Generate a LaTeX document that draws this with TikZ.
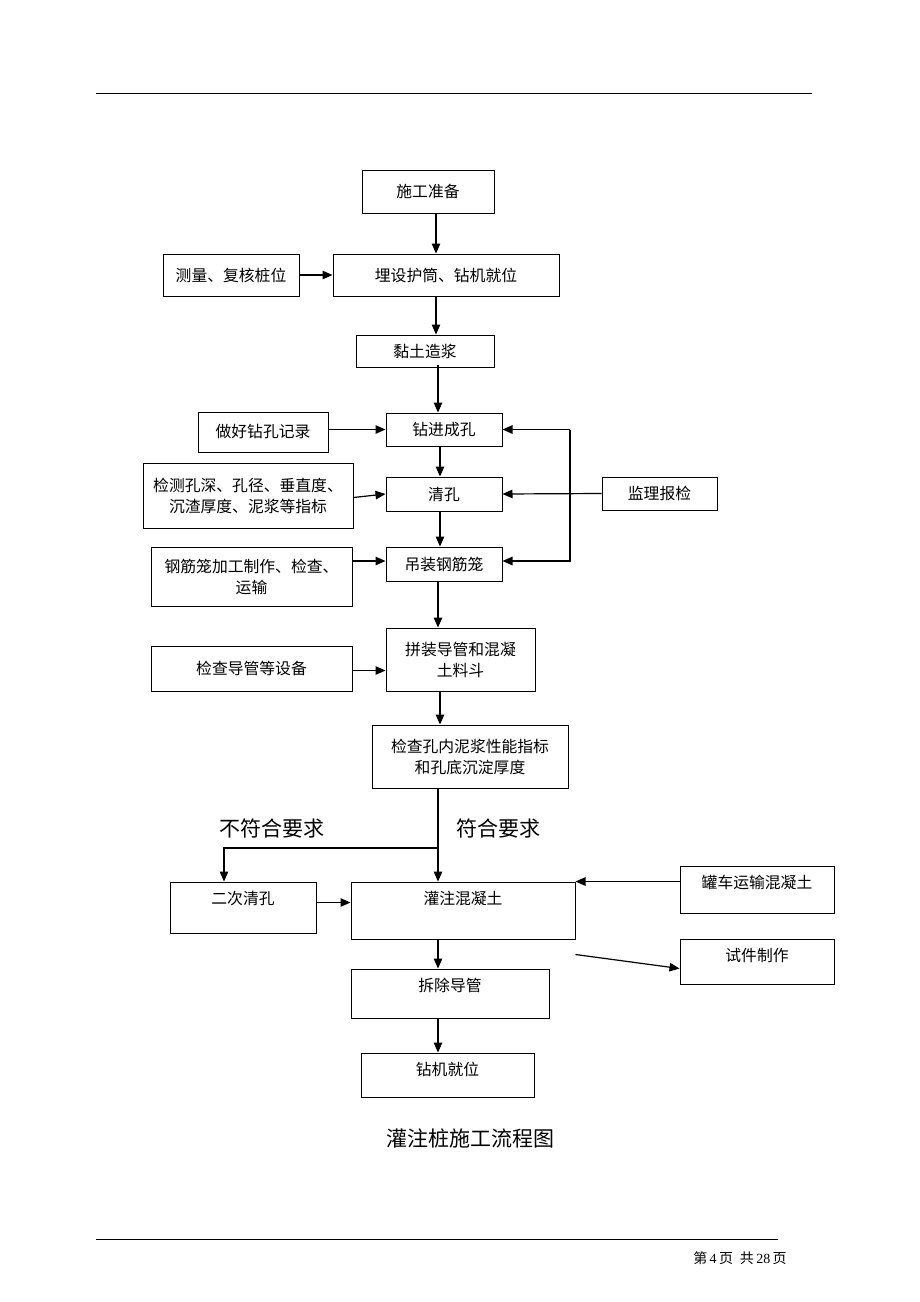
\documentclass[tikz,border=0pt]{standalone}
\usepackage{fontspec}
\setmainfont{Liberation Serif}
\newfontfamily\cjk{Noto Sans CJK SC}
\usetikzlibrary{arrows.meta}
\begin{document}
\begin{tikzpicture}[x=1pt,y=-1pt,
  box/.style={draw, line width=1pt, inner sep=0pt, align=center, font=\cjk\fontsize{15.8}{21}\selectfont},
  arr/.style={line width=1.2pt, -{Triangle[length=10pt,width=8.5pt]}},
  ln/.style={line width=1.2pt},
  toplbl/.style={anchor=center, yshift=-17pt, font=\cjk\fontsize{15.8}{21}\selectfont}]
\useasboundingbox[fill=white] (0,0) rectangle (920,1302);
% header / footer rules
\draw[line width=1pt] (96,93) -- (812,93);
\draw[line width=0.8pt] (96,1239) -- (778,1239);
\node[font=\fontsize{14}{16}\selectfont] (foot) at (740,1258) {{\cjk 第}\,4\,{\cjk 页}\ \ {\cjk 共}\,28\,{\cjk 页}};
% helper x coordinates
\coordinate (x436) at (436,0);
\coordinate (x438) at (438,0);
\coordinate (x440) at (440,0);
\coordinate (x570) at (570,0);
\coordinate (x224) at (224,0);
% boxes
\node[box, minimum width=132, minimum height=43] (sg) at (428,191.5) {施工准备};
\node[box, minimum width=136, minimum height=42] (cl) at (231,275) {测量、复核桩位};
\node[box, minimum width=226, minimum height=42] (msh) at (446,275) {埋设护筒、钻机就位};
\node[box, minimum width=138, minimum height=32] (nt) at (425,351) {黏土造浆};
\node[box, minimum width=130, minimum height=40] (jl) at (263,432) {做好钻孔记录};
\node[box, minimum width=116, minimum height=33] (zj) at (444,429.5) {钻进成孔};
\node[box, minimum width=210, minimum height=65] (jc) at (248,495.5) {检测孔深、孔径、垂直度、\\沉渣厚度、泥浆等指标};
\node[box, minimum width=116, minimum height=34] (qk) at (444,494) {清孔};
\node[box, minimum width=115, minimum height=33] (jlbj) at (659.5,493.5) {监理报检};
\node[box, minimum width=201, minimum height=59] (gjl) at (251.5,576.5) {钢筋笼加工制作、检查、\\运输};
\node[box, minimum width=116, minimum height=34] (dz) at (444,564) {吊装钢筋笼};
\node[box, minimum width=149, minimum height=63] (pz) at (460.5,659.5) {拼装导管和混凝\\土料斗};
\node[box, minimum width=201, minimum height=45] (jcdg) at (251.5,668.5) {检查导管等设备};
\node[box, minimum width=196, minimum height=63] (jk) at (470,756.5) {检查孔内泥浆性能指标\\和孔底沉淀厚度};
% lower part
\node[font=\cjk\fontsize{21}{24}\selectfont] (bfh) at (272,828) {不符合要求};
\node[font=\cjk\fontsize{21}{24}\selectfont] (fh) at (498,828) {符合要求};
\node[box, minimum width=146, minimum height=51, label={[toplbl]north:二次清孔}] (ec) at (243,907.5) {};
\node[box, minimum width=224, minimum height=57, label={[toplbl]north:灌注混凝土}] (gz) at (463,910.5) {};
\node[box, minimum width=154, minimum height=47, label={[toplbl]north:罐车运输混凝土}] (gc) at (757,889.5) {};
\node[box, minimum width=154, minimum height=45, label={[toplbl]north:试件制作}] (sj) at (757,961.5) {};
\node[box, minimum width=198, minimum height=49, label={[toplbl]north:拆除导管}] (cc) at (450,993.5) {};
\node[box, minimum width=173, minimum height=44, label={[toplbl]north:钻机就位}] (zjjw) at (447.5,1075) {};
\node[font=\cjk\fontsize{21}{24}\selectfont] (cap) at (470,1138) {灌注桩施工流程图};
% connectors
\draw[arr] (sg.south -| x436) -- (msh.north -| x436);
\draw[arr] (cl.east) -- (msh.west);
\draw[arr] (msh.south -| x436) -- (nt.north -| x436);
\draw[arr] ([yshift=3pt]nt.south -| x438) -- (zj.north -| x438);
\draw[arr] (zj.west -| jl.east) -- (zj.west);
\draw[arr] (zj.south -| x440) -- (qk.north -| x440);
\draw[arr] ([yshift=-2pt]jc.east) -- (qk.west);
\draw[arr] (jlbj.west) -- (qk.east);
\draw[arr] (zj.east -| x570) -- (zj.east);
\draw[arr] (zj.east -| x570) -- ([yshift=3pt]dz.east -| x570) -- ([yshift=3pt]dz.east);
\draw[arr] (qk.south -| x440) -- (dz.north -| x440);
\draw[arr] ([yshift=3pt]dz.west -| gjl.east) -- ([yshift=3pt]dz.west);
\draw[arr] (dz.south -| x438) -- (pz.north -| x438);
\draw[arr] ([yshift=-2pt]jcdg.east) -- ([yshift=-2pt]jcdg.east -| pz.west);
\draw[arr] (pz.south -| x440) -- (jk.north -| x440);
\draw[arr] (jk.south -| x438) -- (gz.north -| x438);
\coordinate (br) at (438,848);
\draw[arr] (br) -- (br -| x224) -- (ec.north -| x224);
\draw[arr] ([yshift=5pt]ec.east) -- ([yshift=5pt]ec.east -| gz.west);
\draw[arr] (gc.west |- gz.north) -- (gz.north -| gz.east);
\draw[arr] ([yshift=-15pt]gz.south east) -- ([yshift=-7pt]sj.west);
\draw[arr] (gz.south -| x438) -- (cc.north -| x438);
\draw[arr] (cc.south -| x438) -- (zjjw.north -| x438);
\end{tikzpicture}
\end{document}
